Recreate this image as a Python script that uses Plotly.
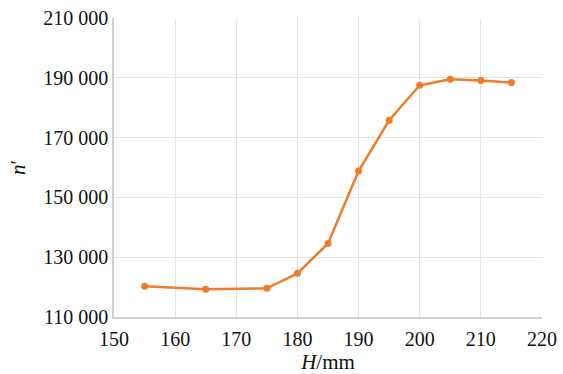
import plotly.graph_objects as go

H_mm = [155, 165, 175, 180, 185, 190, 195, 200, 205, 210, 215]
n_prime = [120300, 119300, 119600, 124600, 134600, 158800, 175800, 187500, 189500, 189100, 188400]

x_ticks = [150, 160, 170, 180, 190, 200, 210, 220]
y_ticks = [110000, 130000, 150000, 170000, 190000, 210000]
y_tick_labels = ["110 000", "130 000", "150 000", "170 000", "190 000", "210 000"]

font_family = "Liberation Serif, Times New Roman, serif"

fig = go.Figure()
fig.add_trace(go.Scatter(
    x=H_mm, y=n_prime, mode="lines+markers",
    line=dict(color="#F07C2A", width=2.5),
    marker=dict(color="#F07C2A", size=7),
    showlegend=False,
))

fig.update_layout(
    width=563, height=374,
    margin=dict(l=114, r=21, t=18, b=57),
    paper_bgcolor="white", plot_bgcolor="white",
    font=dict(family=font_family, size=20, color="#111"),
)
fig.update_xaxes(
    range=[150, 220], tickvals=x_ticks, ticks="",
    showgrid=True, gridcolor="#E3E3E3", gridwidth=1,
    showline=True, linecolor="#CFCFCF", linewidth=1.5, mirror=False,
    zeroline=False, automargin=False, ticklabelstandoff=3,
    title=dict(text="<i>H</i>/mm", font=dict(size=21), standoff=4),
    tickfont=dict(size=20),
)
fig.update_yaxes(
    range=[110000, 210000], tickvals=y_ticks, ticktext=y_tick_labels, ticks="",
    showgrid=True, gridcolor="#E3E3E3", gridwidth=1,
    showline=True, linecolor="#CFCFCF", linewidth=1.5,
    zeroline=False, automargin=False,
    title=dict(text="<i>n</i>′", font=dict(size=21), standoff=12),
    tickfont=dict(size=20),
)

fig.write_html("out.html", config={"displayModeBar": False},
               post_script="document.body.style.margin='0';")
